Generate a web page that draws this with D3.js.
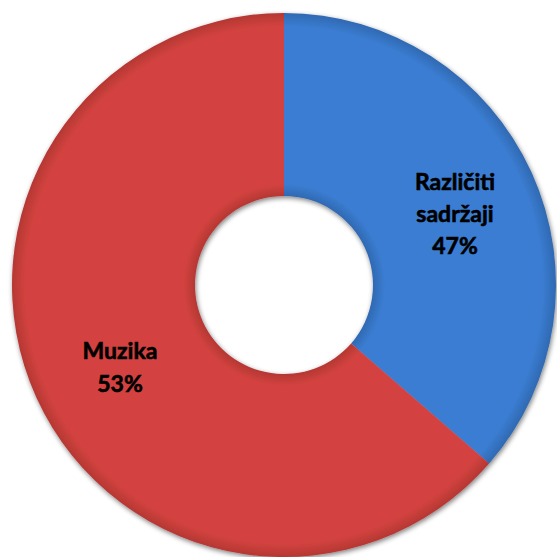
<!DOCTYPE html>
<html><head><meta charset="utf-8">
<script src="https://cdn.jsdelivr.net/npm/d3@7"></script>
<style>html,body{margin:0;padding:0;background:#fff;}svg{display:block;}</style>
</head><body>
<svg id="c" width="557" height="557"></svg>
<script>
const categories = ["Različiti sadržaji", "Muzika"];
const shares = [36.4, 63.6];
const labels = ["47%", "53%"];
const colors = ["#3b7dd2", "#d3433f"];
const darkColors = ["#2f69b2", "#b53733"];

const svg = d3.select("#c");
const cx = 284, cy = 285, R = 272, r = 89;
const defs = svg.append("defs");
const f = defs.append("filter").attr("id","sh").attr("x","-10%").attr("y","-10%").attr("width","120%").attr("height","120%");
f.append("feGaussianBlur").attr("in","SourceAlpha").attr("stdDeviation",2.5).attr("result","b");
f.append("feOffset").attr("in","b").attr("dx",1).attr("dy",2).attr("result","o");
f.append("feComponentTransfer").attr("in","o").attr("result","o2").append("feFuncA").attr("type","linear").attr("slope",0.5);
const m = f.append("feMerge"); m.append("feMergeNode").attr("in","o2"); m.append("feMergeNode").attr("in","SourceGraphic");

colors.forEach((c,i)=>{
  const gr = defs.append("radialGradient").attr("id","g"+i).attr("gradientUnits","userSpaceOnUse")
    .attr("cx",0).attr("cy",0).attr("r",R);
  gr.append("stop").attr("offset",r/R).attr("stop-color",darkColors[i]);
  gr.append("stop").attr("offset",(r+12)/R).attr("stop-color",c);
  gr.append("stop").attr("offset",0.95).attr("stop-color",c);
  gr.append("stop").attr("offset",1).attr("stop-color",darkColors[i]);
});

const pie = d3.pie().sort(null).value(d=>d);
const arcs = pie(shares);
const arc = d3.arc().innerRadius(r).outerRadius(R);
const g = svg.append("g").attr("transform",`translate(${cx},${cy})`).attr("filter","url(#sh)");
g.selectAll("path").data(arcs).join("path")
  .attr("d",arc).attr("fill",(d,i)=>`url(#g${i})`);

// labels
const lab = svg.append("g").attr("font-family","Lato, 'Open Sans', sans-serif")
  .attr("font-weight","bold").attr("font-size",23).attr("fill","#000").attr("text-anchor","middle")
  .attr("stroke","#000").attr("stroke-width",0.6);
const labelPos = [[455,[190,222,254]],[120,[359,392]]];
const lines = [["Različiti","sadržaji",labels[0]],[categories[1],labels[1]]];
lines.forEach((ls,i)=>{
  ls.forEach((t,j)=>{
    lab.append("text").attr("x",labelPos[i][0]).attr("y",labelPos[i][1][j]).text(t);
  });
});
</script>
</body></html>
